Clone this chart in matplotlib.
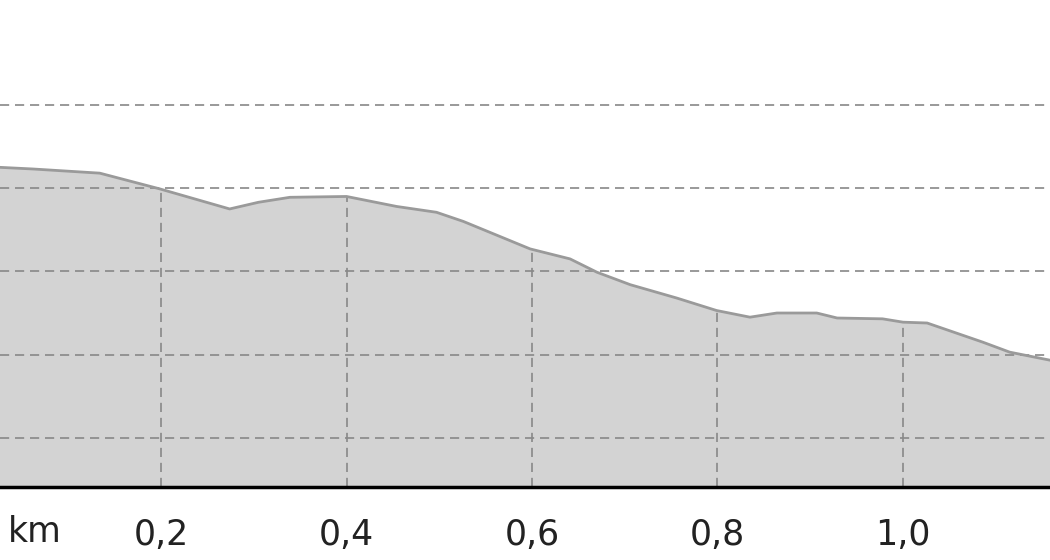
import numpy as np
import matplotlib
matplotlib.use('Agg')
import matplotlib.pyplot as plt
from matplotlib.ticker import FuncFormatter

# 高程剖面数据（距离 km，高程 m）
dist_km = [0.0, 0.026, 0.062, 0.134, 0.199, 0.274, 0.305, 0.339, 0.400, 0.454,
           0.497, 0.526, 0.598, 0.641, 0.670, 0.706, 0.756, 0.799, 0.835,
           0.864, 0.907, 0.929, 0.978, 1.000, 1.026, 1.086, 1.115, 1.160]
elev_m = [232.6, 232.5, 232.3, 231.8, 229.9, 227.5, 228.3, 228.9, 229.0, 227.8,
          227.1, 226.0, 222.7, 221.5, 219.9, 218.4, 216.8, 215.3, 214.5,
          215.0, 215.0, 214.4, 214.3, 213.9, 213.8, 211.5, 210.3, 209.3]

x_ticks = [0.2, 0.4, 0.6, 0.8, 1.0]
y_grid = [200, 210, 220, 230, 240]

X_MIN, X_MAX = 0.0264, 1.1585
Y_MIN, Y_MAX = 194.1, 252.6

fig = plt.figure(figsize=(10.5, 5.6), dpi=100)
ax = fig.add_axes([0, 73 / 560, 1, 487 / 560])

x = np.array(dist_km)
y = np.array(elev_m)

ax.fill_between(x, Y_MIN, y, color='#d3d3d3', linewidth=0, zorder=1)
ax.plot(x, y, color='#9a9a9a', linewidth=2.0, zorder=3)

# 水平网格线（贯穿全宽）
for g in y_grid:
    ax.axhline(g, color='#888888', linewidth=1.2, linestyle=(0, (5.5, 3.5)), zorder=2)

# 竖直网格线只画到剖面线
for t in x_ticks:
    top = np.interp(t, x, y)
    ax.vlines(t, Y_MIN, top, color='#888888', linewidth=1.2,
              linestyle=(0, (5.5, 3.5)), zorder=2)

ax.set_xlim(X_MIN, X_MAX)
ax.set_ylim(Y_MIN, Y_MAX)
ax.set_xticks(x_ticks)
ax.xaxis.set_major_formatter(FuncFormatter(lambda v, p: f'{v:.1f}'.replace('.', ',')))
ax.tick_params(axis='x', length=0, labelsize=25, pad=22, colors='#222222')
ax.tick_params(axis='y', left=False, labelleft=False)
for s in ['top', 'left', 'right']:
    ax.spines[s].set_visible(False)
ax.spines['bottom'].set_color('black')
ax.spines['bottom'].set_linewidth(2.5)
ax.spines['bottom'].set_zorder(5)

fig.text(8 / 1050, 1 - 532 / 560, 'km', fontsize=25, color='#222222',
         ha='left', va='center')

fig.savefig('out.png', dpi=100)
